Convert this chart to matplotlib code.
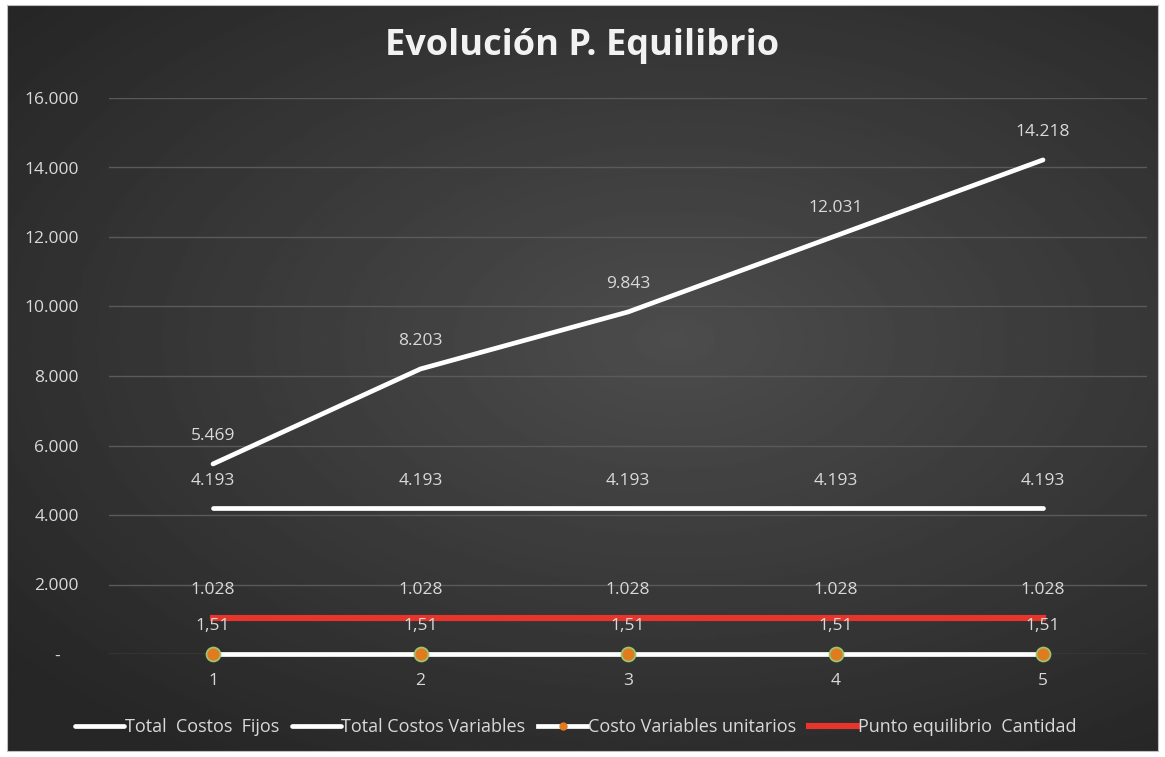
import matplotlib.pyplot as plt
import numpy as np
from matplotlib.ticker import FuncFormatter

# datos
periodos = [1, 2, 3, 4, 5]
costos_fijos = [4193, 4193, 4193, 4193, 4193]
costos_variables = [5469, 8203, 9843, 12031, 14218]
costo_var_unitario = [1.51, 1.51, 1.51, 1.51, 1.51]
punto_equilibrio = [1028, 1028, 1028, 1028, 1028]
y_ticks = [0, 2000, 4000, 6000, 8000, 10000, 12000, 14000, 16000]

label_color = '#d9d9d9'
plt.rcParams['font.family'] = ['Open Sans', 'DejaVu Sans']


def miles(v):
    return f"{v:,.0f}".replace(",", ".")


fig = plt.figure(figsize=(11.65, 7.57), dpi=100)
fig.patch.set_facecolor('white')

# fondo oscuro con degradado radial
bg = fig.add_axes([7 / 1165, 1 - 751 / 757, 1151 / 1165, 746 / 757])
yy, xx = np.mgrid[0:1:300j, 0:1:460j]
dist = np.sqrt(((xx - 0.58) / 1.0) ** 2 + ((yy - 0.45) / 0.9) ** 2)
shade = 0.30 - 0.15 * np.clip(dist / 0.75, 0, 1)
bg.imshow(shade, cmap='gray', vmin=0, vmax=1, aspect='auto', extent=[0, 1, 0, 1])
bg.set_xticks([])
bg.set_yticks([])
for s in bg.spines.values():
    s.set_color('#bfbfbf')
    s.set_linewidth(0.8)

ax = fig.add_axes([109.25 / 1165, 1 - 654 / 757, 1037.5 / 1165, 556 / 757])
ax.set_facecolor('none')
ax.set_xlim(0.5, 5.5)
ax.set_ylim(0, 16000)
ax.set_yticks(y_ticks)
ax.yaxis.set_major_formatter(FuncFormatter(lambda v, p: '-    ' if v == 0 else miles(v)))
ax.set_xticks(periodos)
ax.tick_params(colors=label_color, labelsize=12.5, length=0)
ax.tick_params(axis='y', pad=22)
ax.tick_params(axis='x', pad=14)
ax.grid(axis='y', color='#5a5a5a', linewidth=1)
for s in ax.spines.values():
    s.set_visible(False)

ax.plot(periodos, costos_fijos, color='white', linewidth=3.4, solid_capstyle='round',
        label='Total  Costos  Fijos', zorder=3)
ax.plot(periodos, costos_variables, color='white', linewidth=3.4, solid_capstyle='round',
        label='Total Costos Variables', zorder=3)
ax.plot(periodos, costo_var_unitario, color='white', linewidth=3.4, marker='o',
        markersize=10, markerfacecolor='#e07b1f', markeredgecolor='#9cc46e',
        markeredgewidth=1.3, label='Costo Variables unitarios', zorder=4, clip_on=False)
ax.plot(periodos, punto_equilibrio, color='#e8352b', linewidth=4.4,
        label='Punto equilibrio  Cantidad', zorder=3)

for serie, fmt in [(costos_fijos, miles), (costos_variables, miles),
                   (punto_equilibrio, miles),
                   (costo_var_unitario, lambda v: f"{v:.2f}".replace(".", ","))]:
    for x, v in zip(periodos, serie):
        ax.annotate(fmt(v), (x, v), xytext=(0, 20), textcoords='offset points',
                    ha='center', va='center', color=label_color, fontsize=12.5)

fig.text(0.5, 1 - 46 / 757, 'Evolución P. Equilibrio', ha='center', va='center',
         color='#f2f2f2', fontsize=26, fontweight='bold')

leg = fig.legend(loc='center', bbox_to_anchor=(576 / 1165, 1 - 727 / 757), ncol=4,
                 frameon=False, fontsize=13, handlelength=2.7, handletextpad=0.05,
                 columnspacing=0.7, borderpad=0, borderaxespad=0)
for t in leg.get_texts():
    t.set_color(label_color)
leg.legend_handles[2].set_markersize(6)
leg.legend_handles[2].set_markeredgewidth(0)

plt.savefig('out.png', dpi=100)
